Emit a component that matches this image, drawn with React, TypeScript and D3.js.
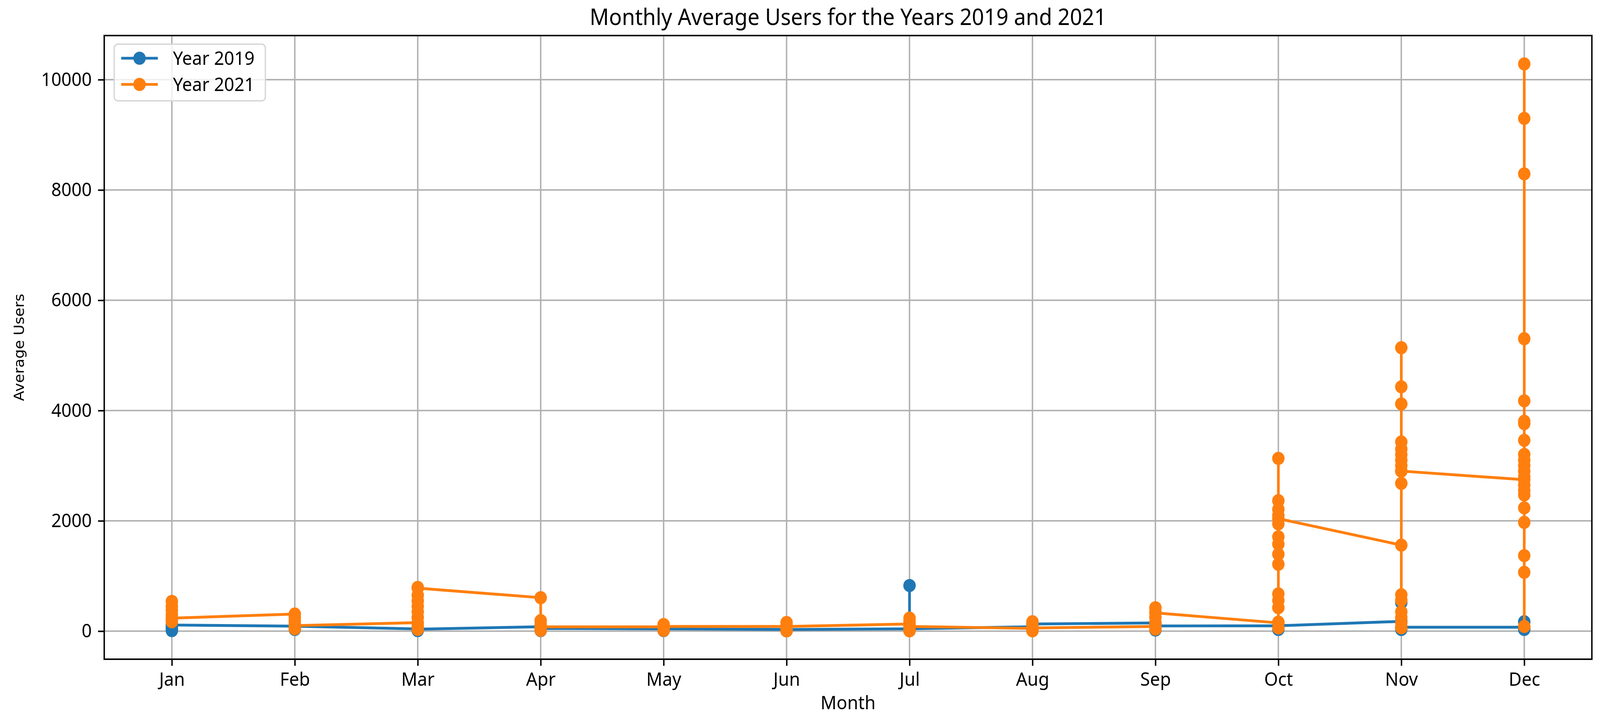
import { useEffect, useRef } from "react";
import * as d3 from "d3";

const months = ["Jan", "Feb", "Mar", "Apr", "May", "Jun", "Jul", "Aug", "Sep", "Oct", "Nov", "Dec"];

// daily average users, grouped by month, in the order they were plotted
const users2019: number[][] = [
  [40, 10, 60, 111],
  [90, 50, 30, 90],
  [40, 10, 35],
  [80, 10, 50],
  [40, 10, 42],
  [30, 5, 30],
  [42, 827, 10, 42],
  [80, 20, 130],
  [149, 20, 94],
  [98, 30, 98],
  [177, 517, 30, 71],
  [71, 170, 30],
];

const users2021: number[][] = [
  [540, 450, 380, 300, 200, 170, 236],
  [310, 250, 180, 120, 60, 42, 101],
  [154, 30, 100, 250, 350, 450, 550, 650, 792, 780],
  [607, 191, 120, 60, 14, 78],
  [78, 120, 60, 14, 85],
  [85, 156, 100, 40, 5, 85],
  [130, 236, 180, 100, 40, 5, 85],
  [50, 170, 110, 5, 57],
  [85, 425, 350, 250, 150, 35, 331],
  [150, 3133, 2365, 2208, 2100, 1946, 1710, 1579, 1395, 1212, 675, 556, 425, 163, 58, 2040],
  [1560, 5140, 4430, 4120, 3430, 3300, 3200, 3100, 3000, 2900, 2680, 660, 560, 350, 250, 150, 60, 2903],
  [2746, 10286, 9298, 8292, 5302, 4177, 3806, 3763, 3460, 3204, 3100, 3000, 2900, 2800, 2650, 2550, 2470, 2235, 1972, 1369, 1067, 85],
];

const yTicks = [0, 2000, 4000, 6000, 8000, 10000];
const seriesNames = ["Year 2019", "Year 2021"];
const seriesColors = ["#1f77b4", "#ff7f0e"];

const W = 4329;
const H = 1840;
const M = { left: 282, right: 4307, top: 91, bottom: 1687 };
const FONT = "'Noto Sans', sans-serif";

export default function App() {
  const svgRef = useRef<SVGSVGElement | null>(null);

  useEffect(() => {
    const svg = d3.select(svgRef.current);
    svg.selectAll("*").remove();

    const series = [users2019, users2021].map((byMonth) =>
      byMonth.flatMap((vals, m) => vals.map((v) => ({ m, v })))
    );

    const all = [...users2019.flat(), ...users2021.flat()];
    const lo = d3.min(all) as number;
    const hi = d3.max(all) as number;
    const padY = (hi - lo) * 0.05;
    const padX = (months.length - 1) * 0.05;

    const x = d3
      .scaleLinear()
      .domain([-padX, months.length - 1 + padX])
      .range([M.left, M.right]);
    const y = d3
      .scaleLinear()
      .domain([lo - padY, hi + padY])
      .range([M.bottom, M.top]);

    svg.append("rect").attr("width", W).attr("height", H).attr("fill", "white");

    // grid
    const grid = svg.append("g").attr("stroke", "#b0b0b0").attr("stroke-width", 3.84);
    grid
      .selectAll("line.gx")
      .data(d3.range(months.length))
      .join("line")
      .attr("class", "gx")
      .attr("x1", (d) => x(d))
      .attr("x2", (d) => x(d))
      .attr("y1", M.top)
      .attr("y2", M.bottom);
    grid
      .selectAll("line.gy")
      .data(yTicks)
      .join("line")
      .attr("class", "gy")
      .attr("x1", M.left)
      .attr("x2", M.right)
      .attr("y1", (d) => y(d))
      .attr("y2", (d) => y(d));

    // series
    const line = d3
      .line<{ m: number; v: number }>()
      .x((d) => x(d.m))
      .y((d) => y(d.v));

    series.forEach((pts, i) => {
      const g = svg.append("g");
      g.append("path")
        .datum(pts)
        .attr("d", line)
        .attr("fill", "none")
        .attr("stroke", seriesColors[i])
        .attr("stroke-width", 7.2)
        .attr("stroke-linejoin", "round")
        .attr("stroke-linecap", "square");
      g.selectAll("circle")
        .data(pts)
        .join("circle")
        .attr("cx", (d) => x(d.m))
        .attr("cy", (d) => y(d.v))
        .attr("r", 14.4)
        .attr("fill", seriesColors[i])
        .attr("stroke", seriesColors[i])
        .attr("stroke-width", 4.8);
    });

    // axes
    const xAxis = svg
      .append("g")
      .attr("transform", `translate(0,${M.bottom})`)
      .call(
        d3
          .axisBottom(x)
          .tickValues(d3.range(months.length))
          .tickFormat((d) => months[d as number])
          .tickSize(16.8)
          .tickPadding(16.8)
      );
    const yAxis = svg
      .append("g")
      .attr("transform", `translate(${M.left},0)`)
      .call(
        d3
          .axisLeft(y)
          .tickValues(yTicks)
          .tickFormat(d3.format("d"))
          .tickSize(16.8)
          .tickPadding(16.8)
      );
    [xAxis, yAxis].forEach((a) => {
      a.select(".domain").remove();
      a.selectAll(".tick line").attr("stroke", "black").attr("stroke-width", 3.84);
      a.selectAll(".tick text")
        .attr("fill", "black")
        .style("font-family", FONT)
        .style("font-size", "48px");
    });

    svg
      .append("rect")
      .attr("x", M.left)
      .attr("y", M.top)
      .attr("width", M.right - M.left)
      .attr("height", M.bottom - M.top)
      .attr("fill", "none")
      .attr("stroke", "black")
      .attr("stroke-width", 3.84);

    // labels
    svg
      .append("text")
      .attr("x", (M.left + M.right) / 2)
      .attr("y", 64)
      .attr("text-anchor", "middle")
      .style("font-family", FONT)
      .style("font-size", "57.6px")
      .text("Monthly Average Users for the Years 2019 and 2021");
    svg
      .append("text")
      .attr("x", (M.left + M.right) / 2)
      .attr("y", 1815)
      .attr("text-anchor", "middle")
      .style("font-family", FONT)
      .style("font-size", "48px")
      .text("Month");
    svg
      .append("text")
      .attr("transform", `translate(64,${(M.top + M.bottom) / 2}) rotate(-90)`)
      .attr("text-anchor", "middle")
      .style("font-family", "'DejaVu Sans', sans-serif")
      .style("font-size", "38px")
      .text("Average Users");

    // legend
    const lg = svg.append("g");
    lg.append("rect")
      .attr("x", 309)
      .attr("y", 113)
      .attr("width", 409)
      .attr("height", 145)
      .attr("rx", 10)
      .attr("fill", "white")
      .attr("fill-opacity", 0.8)
      .attr("stroke", "#d6d6d6")
      .attr("stroke-width", 3.5);
    seriesNames.forEach((name, i) => {
      const cy = 149 + i * 67;
      lg.append("line")
        .attr("x1", 328)
        .attr("x2", 427)
        .attr("y1", cy)
        .attr("y2", cy)
        .attr("stroke", seriesColors[i])
        .attr("stroke-width", 7.2);
      lg.append("circle")
        .attr("cx", 377.5)
        .attr("cy", cy)
        .attr("r", 14.4)
        .attr("fill", seriesColors[i])
        .attr("stroke", seriesColors[i])
        .attr("stroke-width", 4.8);
      lg.append("text")
        .attr("x", 468)
        .attr("y", cy)
        .attr("dy", "0.35em")
        .style("font-family", FONT)
        .style("font-size", "48px")
        .text(name);
    });
  }, []);

  return (
    <svg
      ref={svgRef}
      viewBox={`0 0 ${W} ${H}`}
      preserveAspectRatio="none"
      style={{ position: "fixed", left: 0, top: 0, width: "100vw", height: "100vh", display: "block" }}
    ></svg>
  );
}
